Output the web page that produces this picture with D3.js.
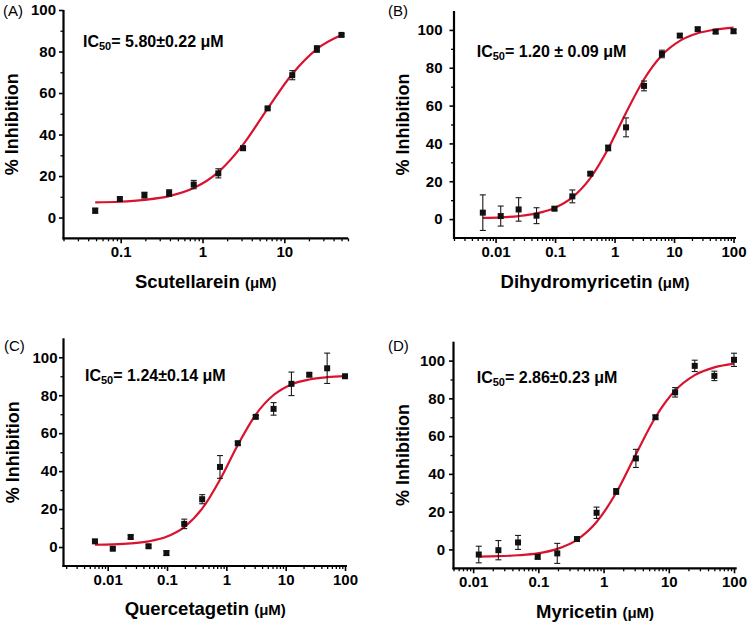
<!DOCTYPE html>
<html>
<head>
<meta charset="utf-8">
<script src="https://cdn.jsdelivr.net/npm/d3@7"></script>
<style>
  html, body { margin: 0; padding: 0; background: #ffffff; }
  svg { display: block; }
  text { font-family: "Liberation Sans", Arial, sans-serif; fill: #000; }
</style>
</head>
<body>
<svg id="chart" width="750" height="624"></svg>
<script>
// ---------------- DATA ----------------
const panelLabels = ["(A)", "(B)", "(C)", "(D)"];
const compounds = ["Scutellarein", "Dihydromyricetin", "Quercetagetin", "Myricetin"];
const ic50Texts = ["5.80\u00B10.22", "1.20 \u00B1 0.09", "1.24\u00B10.14", "2.86\u00B10.23"];
const xTicksAll = [0.01, 0.1, 1, 10, 100];
const xTickLabelsAll = ["0.01", "0.1", "1", "10", "100"];
const yTicks = [0, 20, 40, 60, 80, 100];
const yMinorTicks = [10, 30, 50, 70, 90];

// (A) Scutellarein
const concA = [0.0488, 0.0977, 0.195, 0.391, 0.781, 1.56, 3.13, 6.25, 12.5, 25, 50];
const inhA  = [3.3, 8.9, 10.8, 11.8, 15.9, 21.3, 33.4, 52.6, 68.6, 81.2, 88.0];
const errA  = [1.2, 1.0, 1.4, 1.6, 2.0, 2.2, 1.0, 0.6, 2.2, 1.6, 0.6];
const fitA  = [7.3, 7.6, 8.5, 10.3, 14.2, 21.9, 35.1, 52.5, 69.2, 81.2, 87.9];

// (B) Dihydromyricetin
const concB = [0.0061, 0.0122, 0.0244, 0.0488, 0.0977, 0.195, 0.391, 0.781, 1.56, 3.13, 6.25, 12.5, 25, 50, 100];
const inhB  = [3.4, 1.6, 5.1, 1.8, 5.5, 12.0, 24.0, 37.6, 48.5, 70.4, 87.3, 97.0, 100.4, 99.1, 99.3];
const errB  = [9.4, 5.3, 6.2, 4.2, 1.0, 3.4, 0.8, 1.5, 5.0, 2.6, 2.0, 1.0, 0.8, 1.0, 1.0];
const fitB  = [0.6, 0.9, 1.6, 3.0, 5.9, 11.5, 21.7, 37.2, 56.2, 73.9, 86.6, 94.2, 98.2, 100.2, 101.2];

// (C) Quercetagetin
const concC = [0.0061, 0.0122, 0.0244, 0.0488, 0.0977, 0.195, 0.391, 0.781, 1.56, 3.13, 6.25, 12.5, 25, 50, 100];
const inhC  = [3.0, -0.9, 5.3, 0.4, -3.2, 12.2, 25.2, 42.2, 54.7, 68.6, 72.8, 86.0, 90.8, 94.2, 90.0];
const errC  = [0.8, 0.8, 1.0, 0.8, 1.2, 2.5, 2.4, 6.0, 1.0, 0.8, 3.3, 6.2, 0.8, 8.0, 0.6];
const fitC  = [1.2, 1.4, 1.9, 3.0, 5.4, 10.5, 20.2, 35.5, 53.8, 69.8, 80.1, 85.7, 88.3, 89.5, 90.1];

// (D) Myricetin
const concD = [0.0122, 0.0244, 0.0488, 0.0977, 0.195, 0.391, 0.781, 1.56, 3.13, 6.25, 12.5, 25, 50, 100];
const inhD  = [-2.7, -0.4, 3.7, -3.9, -2.1, 5.5, 19.4, 30.7, 48.2, 70.0, 83.2, 97.2, 91.9, 100.4];
const errD  = [4.4, 5.1, 3.7, 1.2, 5.3, 0.8, 3.0, 1.5, 4.8, 1.0, 2.5, 3.0, 2.5, 3.5];
const fitD  = [-3.8, -3.6, -3.1, -2.1, 0.3, 5.1, 14.5, 30.0, 50.4, 70.0, 84.1, 92.3, 96.4, 98.4];

// ---------------- LAYOUT ----------------
const panels = [
  { conc: concA, inh: inhA, err: errA, fit: fitA,
    left: 63.5, right: 348, top: 10, bottom: 238.3,
    xDom: [0.02, 60], yDom: [-10, 100], xt: [1, 2, 3], ypad: 3,
    letter: [3, 16], ic: [83, 46.7], xTitleY: 288.3, yTitleX: 18 },
  { conc: concB, inh: inhB, err: errB, fit: fitB,
    left: 454, right: 736, top: 11, bottom: 238,
    xDom: [0.002, 110], yDom: [-10, 110], xt: [0, 1, 2, 3, 4], ypad: 7,
    letter: [388, 16], ic: [476.7, 57.3], xTitleY: 288.3, yTitleX: 408.5 },
  { conc: concC, inh: inhC, err: errC, fit: fitC,
    left: 63.5, right: 347, top: 338.3, bottom: 566,
    xDom: [0.0018, 108], yDom: [-10, 110], xt: [0, 1, 2, 3, 4], ypad: 1.5,
    letter: [4, 351], ic: [85, 380.7], xTitleY: 615, yTitleX: 18.5 },
  { conc: concD, inh: inhD, err: errD, fit: fitD,
    left: 453.5, right: 736.7, top: 341.7, bottom: 568.3,
    xDom: [0.005, 110], yDom: [-10, 110], xt: [0, 1, 2, 3, 4], ypad: 4,
    letter: [388, 351], ic: [476.7, 383.3], xTitleY: 617.7, yTitleX: 408.5 }
];

const svg = d3.select("#chart");
svg.append("rect").attr("width", 750).attr("height", 624).attr("fill", "#ffffff");

const curveColor = "#d9122e";

panels.forEach((p, i) => {
  const g = svg.append("g");
  const x = d3.scaleLog().domain(p.xDom).range([p.left, p.right]);
  const y = d3.scaleLinear().domain(p.yDom).range([p.bottom, p.top]);

  // minor x ticks
  const minor = [];
  const lo = Math.floor(Math.log10(p.xDom[0])), hi = Math.ceil(Math.log10(p.xDom[1]));
  for (let e = lo; e <= hi; e++) {
    for (let m = 2; m <= 9; m++) {
      const v = m * Math.pow(10, e);
      if (v >= p.xDom[0] && v <= p.xDom[1]) minor.push(v);
    }
  }
  const majorVals = p.xt.map(k => xTicksAll[k]);
  const majorLabels = p.xt.map(k => xTickLabelsAll[k]);

  const xMinorAxis = d3.axisBottom(x).tickValues(minor).tickFormat("").tickSize(3).tickSizeOuter(0);
  const gxm = g.append("g").attr("transform", `translate(0,${p.bottom})`).call(xMinorAxis);
  gxm.select(".domain").remove();
  gxm.selectAll("line").attr("stroke", "#000").attr("stroke-width", 1.3);

  const xAxis = d3.axisBottom(x).tickValues(majorVals)
    .tickFormat((d, j) => majorLabels[j]).tickSize(5).tickSizeOuter(0).tickPadding(3);
  const gx = g.append("g").attr("transform", `translate(0,${p.bottom})`).call(xAxis);
  gx.select(".domain").attr("stroke", "#000").attr("stroke-width", 2.2)
    .attr("d", `M${p.left - 1},0H${p.right}`);
  gx.selectAll("line").attr("stroke", "#000").attr("stroke-width", 1.6);
  gx.selectAll("text").attr("font-size", 15).attr("font-weight", "bold")
    .attr("font-family", "Liberation Sans, Arial, sans-serif").attr("fill", "#000");

  // y axes
  const yMinorAxis = d3.axisLeft(y).tickValues(yMinorTicks).tickFormat("").tickSize(3).tickSizeOuter(0);
  const gym = g.append("g").attr("transform", `translate(${p.left},0)`).call(yMinorAxis);
  gym.select(".domain").remove();
  gym.selectAll("line").attr("stroke", "#000").attr("stroke-width", 1.3);

  const yAxis = d3.axisLeft(y).tickValues(yTicks).tickFormat(d3.format("d"))
    .tickSize(4.5).tickSizeOuter(0).tickPadding(p.ypad);
  const gy = g.append("g").attr("transform", `translate(${p.left},0)`).call(yAxis);
  gy.select(".domain").attr("stroke", "#000").attr("stroke-width", 2.2)
    .attr("d", `M0,${p.top}V${p.bottom + 1}`);
  gy.selectAll("line").attr("stroke", "#000").attr("stroke-width", 1.6);
  gy.selectAll("text").attr("font-size", 15).attr("font-weight", "bold")
    .attr("font-family", "Liberation Sans, Arial, sans-serif").attr("fill", "#000");

  // fitted curve
  const line = d3.line()
    .x((d, j) => x(p.conc[j]))
    .y(d => y(d))
    .curve(d3.curveMonotoneX);
  g.append("path").datum(p.fit).attr("d", line)
    .attr("fill", "none").attr("stroke", curveColor).attr("stroke-width", 2.2);

  // error bars
  const eb = g.append("g").attr("stroke", "#1a1a1a").attr("stroke-width", 1.1);
  p.inh.forEach((v, j) => {
    const cx = x(p.conc[j]);
    const y1 = y(v + p.err[j]), y2 = y(v - p.err[j]);
    eb.append("line").attr("x1", cx).attr("x2", cx).attr("y1", y1).attr("y2", y2);
    eb.append("line").attr("x1", cx - 3).attr("x2", cx + 3).attr("y1", y1).attr("y2", y1);
    eb.append("line").attr("x1", cx - 3).attr("x2", cx + 3).attr("y1", y2).attr("y2", y2);
  });

  // points
  g.append("g").selectAll("rect").data(p.inh).join("rect")
    .attr("x", (d, j) => x(p.conc[j]) - 3)
    .attr("y", d => y(d) - 3)
    .attr("width", 6).attr("height", 6)
    .attr("fill", "#111");

  // panel letter
  g.append("text").attr("x", p.letter[0]).attr("y", p.letter[1])
    .attr("font-size", 15).text(panelLabels[i]);

  // IC50 annotation
  const t = g.append("text").attr("x", p.ic[0]).attr("y", p.ic[1])
    .attr("font-size", 16).attr("font-weight", "bold");
  t.append("tspan").text("IC");
  t.append("tspan").attr("font-size", 11).attr("dy", 3).text("50");
  t.append("tspan").attr("dy", -3).text("= " + ic50Texts[i] + " \u03BCM");

  // x title
  const xt = g.append("text").attr("x", (p.left + p.right) / 2).attr("y", p.xTitleY)
    .attr("text-anchor", "middle").attr("font-weight", "bold");
  xt.append("tspan").attr("font-size", 18.5).text(compounds[i] + " ");
  xt.append("tspan").attr("font-size", 15).text("(\u03BCM)");

  // y title
  g.append("text")
    .attr("transform", `translate(${p.yTitleX},${(p.top + p.bottom) / 2}) rotate(-90)`)
    .attr("text-anchor", "middle").attr("font-size", 18).attr("font-weight", "bold")
    .text("% Inhibition");
});
</script>
</body>
</html>
